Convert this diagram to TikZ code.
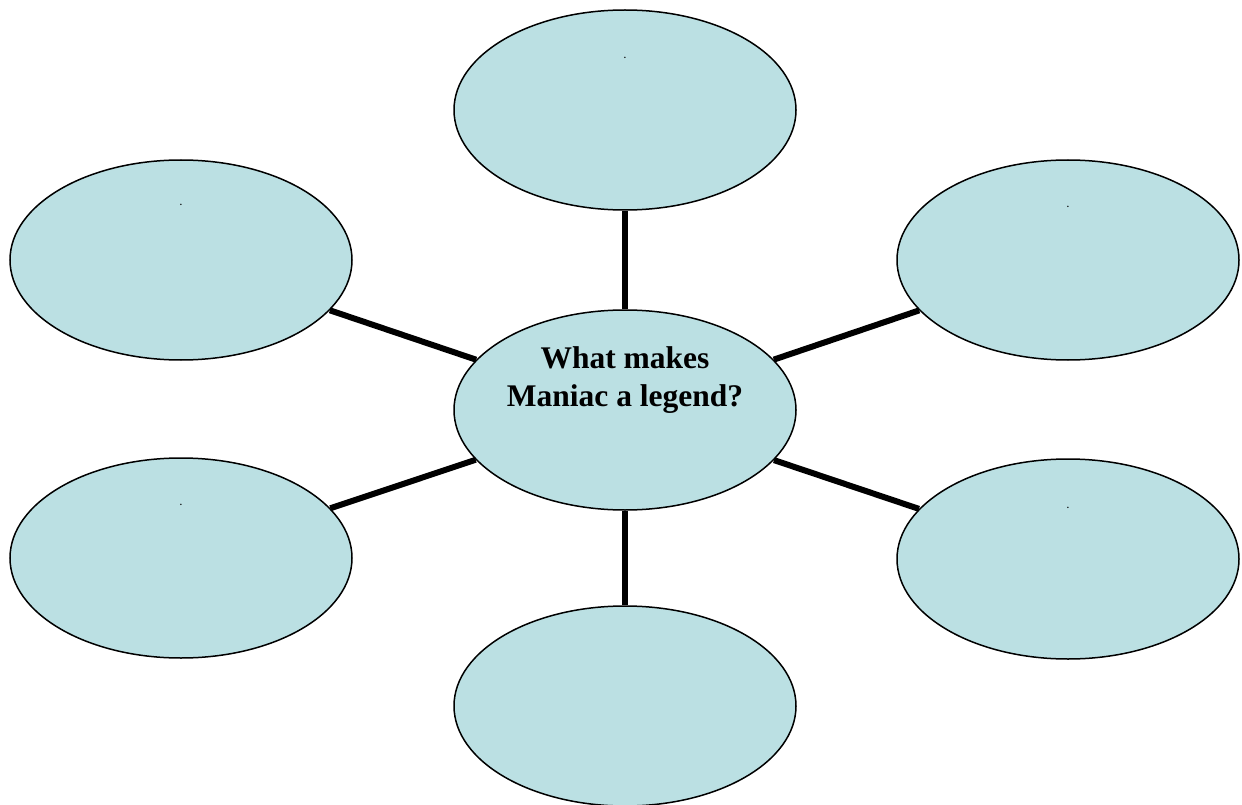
\documentclass[tikz,border=0pt]{standalone}
\usepackage{fontspec}
\setmainfont{Liberation Serif}
\usepackage{tikz}
\usetikzlibrary{shapes, positioning, backgrounds}
\definecolor{bubbleblue}{HTML}{BBE0E3}
\definecolor{inkblack}{HTML}{000000}
\tikzset{
  bubble/.style={ellipse, draw=inkblack, line width=1.5pt, fill=bubbleblue, minimum width=342pt, minimum height=200pt, inner sep=0pt},
  spoke/.style={line width=6pt, inkblack},
  speck/.style={font=\fontsize{9}{9}\selectfont\bfseries, inner sep=0pt}
}

\begin{document}
\begin{tikzpicture}[x=1pt, y=-1pt]
          \useasboundingbox (0,0) rectangle (1242,805);
          % Burbuja central
          \node[bubble] (hub) at (625,410) {};
          \node[font=\fontsize{31.5}{38}\selectfont\bfseries, align=center] (hubtext) at (625,380) {What makes\\Maniac a legend?};
          % Burbujas exteriores
          \node[bubble] (top) at (625,110) {};
          \node[bubble] (upleft) at (181,260) {};
          \node[bubble] (upright) at (1068,260) {};
          \node[bubble] (lowleft) at (181,558) {};
          \node[bubble] (lowright) at (1068,559) {};
          \node[bubble] (bottom) at (625,706) {};
          % Puntos pequenos
          \node[speck] (topdot) at (625,58) {.};
          \node[speck] (upleftdot) at (181,205) {.};
          \node[speck] (uprightdot) at (1068,207) {.};
          \node[speck] (lowleftdot) at (181,505) {.};
          \node[speck] (lowrightdot) at (1068,508) {.};
          % Radios
          \begin{scope}[on background layer]
            \foreach \outer in {top, upleft, upright, lowleft, lowright, bottom}
              \draw[spoke] (hub) -- (\outer);
          \end{scope}
        \end{tikzpicture}
\end{document}
